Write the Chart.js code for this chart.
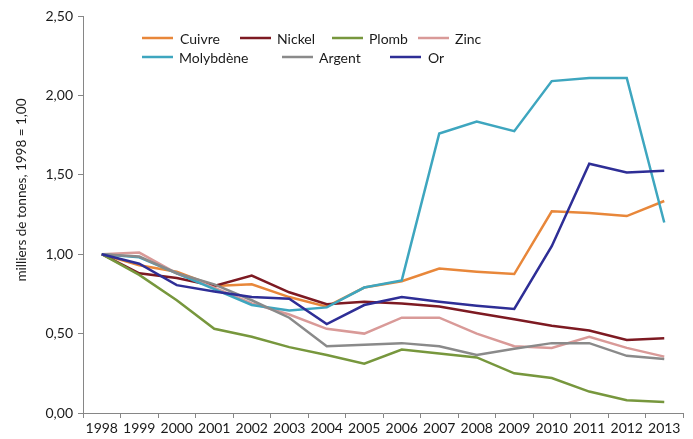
<!DOCTYPE html>
<html>
<head>
<meta charset="utf-8">
<script src="https://cdn.jsdelivr.net/npm/chart.js@4/dist/chart.umd.min.js"></script>
<style>
  html, body { margin: 0; padding: 0; background: #fff; }
  #wrap { width: 693px; height: 439px; }
</style>
</head>
<body>
<div id="wrap"><canvas id="myChart" width="693" height="439"></canvas></div>
<script>
// years on the category axis
const years = ["1998", "1999", "2000", "2001", "2002", "2003", "2004", "2005",
  "2006", "2007", "2008", "2009", "2010", "2011", "2012", "2013"];

// index values, 1998 = 1,00
const cuivre = [1.00, 0.93, 0.89, 0.80, 0.81, 0.73, 0.67, 0.79, 0.83, 0.91, 0.89, 0.875, 1.27, 1.26, 1.24, 1.335];
const nickel = [1.00, 0.88, 0.85, 0.80, 0.865, 0.76, 0.685, 0.70, 0.69, 0.67, 0.63, 0.59, 0.55, 0.52, 0.46, 0.47];
const plomb = [1.00, 0.87, 0.71, 0.53, 0.48, 0.415, 0.365, 0.31, 0.40, 0.375, 0.35, 0.25, 0.22, 0.135, 0.08, 0.07];
const zinc = [1.00, 1.01, 0.88, 0.79, 0.69, 0.62, 0.53, 0.50, 0.60, 0.60, 0.50, 0.42, 0.41, 0.48, 0.41, 0.355];
const molybdene = [1.00, 0.98, 0.88, 0.78, 0.68, 0.645, 0.665, 0.79, 0.835, 1.76, 1.835, 1.775, 2.09, 2.11, 2.11, 1.20];
const argent = [1.00, 0.985, 0.88, 0.81, 0.71, 0.60, 0.42, 0.43, 0.44, 0.42, 0.365, 0.405, 0.44, 0.44, 0.36, 0.34];
const or = [1.00, 0.94, 0.805, 0.765, 0.73, 0.72, 0.56, 0.68, 0.73, 0.70, 0.675, 0.655, 1.05, 1.57, 1.515, 1.525];

const seriesNames = ["Cuivre", "Nickel", "Plomb", "Zinc", "Molybdène", "Argent", "Or"];
const seriesValues = [cuivre, nickel, plomb, zinc, molybdene, argent, or];
const seriesColors = ["#E8873A", "#7D1A22", "#77973D", "#D99A98", "#3EA6BF", "#8A8A8A", "#2E2E96"];

const yTicks = [0, 0.5, 1, 1.5, 2, 2.5];
const yTitle = "milliers de tonnes, 1998 = 1,00";

// legend slots: [line x, text x, row y]
const legendSlots = [
  [142, 180, 38], [240, 277, 38], [332, 369, 38], [418, 455, 38],
  [142, 179, 57], [282, 319, 57], [390, 428, 57]
];

const fontFam = "Lato, 'Open Sans', sans-serif";

// fixed two-row legend plus the rotated axis title
const decorPlugin = {
  id: "decor",
  afterDraw(chart) {
    const ctx = chart.ctx;
    ctx.save();
    ctx.font = "14px " + fontFam;
    ctx.textBaseline = "middle";
    ctx.fillStyle = "#1a1a1a";
    seriesNames.forEach((name, i) => {
      const [lx, tx, y] = legendSlots[i];
      ctx.strokeStyle = seriesColors[i];
      ctx.lineWidth = 2.5;
      ctx.beginPath();
      ctx.moveTo(lx, y);
      ctx.lineTo(lx + 31, y);
      ctx.stroke();
      ctx.fillText(name, tx, y + 1);
    });
    ctx.translate(22, 190);
    ctx.rotate(-Math.PI / 2);
    ctx.textAlign = "center";
    ctx.font = "13.5px " + fontFam;
    ctx.fillText(yTitle, 0, 0);
    ctx.restore();
  }
};

const ctx = document.getElementById("myChart").getContext("2d");

new Chart(ctx, {
  type: "line",
  data: {
    labels: years,
    datasets: seriesNames.map((name, i) => ({
      label: name,
      data: seriesValues[i],
      borderColor: seriesColors[i],
      backgroundColor: seriesColors[i],
      borderWidth: 2.5,
      pointRadius: 0,
      tension: 0,
      order: seriesNames.length - i,
    })),
  },
  options: {
    responsive: false,
    animation: false,
    layout: { padding: { top: 16, right: 10, left: 0, bottom: 0 } },
    plugins: {
      legend: { display: false },
      tooltip: { enabled: false },
    },
    scales: {
      x: {
        offset: true,
        grid: {
          offset: true,
          drawOnChartArea: false,
          drawTicks: true,
          tickLength: 5,
          color: "#868686",
        },
        border: { color: "#868686", width: 1 },
        ticks: {
          color: "#1a1a1a",
          font: { family: fontFam, size: 14 },
          padding: 2,
          maxRotation: 0,
          autoSkip: false,
        },
        afterFit(scale) { scale.height = 26; },
      },
      y: {
        min: 0,
        max: 2.5,
        afterBuildTicks(scale) { scale.ticks = yTicks.map(v => ({ value: v })); },
        grid: {
          drawOnChartArea: false,
          drawTicks: true,
          tickLength: 5,
          color: "#868686",
        },
        border: { color: "#868686", width: 1 },
        ticks: {
          color: "#1a1a1a",
          font: { family: fontFam, size: 14 },
          padding: 5,
          callback: (v) => Number(v).toFixed(2).replace(".", ","),
        },
        afterFit(scale) { scale.width = 83; },
      },
    },
  },
  plugins: [decorPlugin],
});
</script>
</body>
</html>
